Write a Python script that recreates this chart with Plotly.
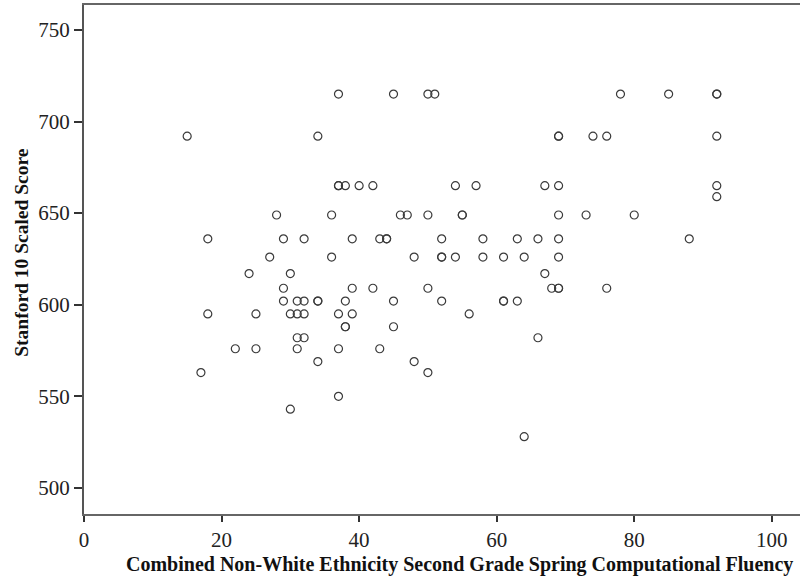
import plotly.graph_objects as go

# Computational fluency (x) and Stanford 10 scaled score (y)
fluency = [
    15, 34, 69, 69, 74, 76, 92,
    37, 45, 50, 51, 78, 85, 92, 92,
    37, 37, 38, 40, 42, 54, 57, 67, 69, 92,
    92,
    28, 36, 46, 47, 50, 55, 55, 69, 73, 80,
    18, 29, 32, 39, 43, 44, 44, 52, 58, 63, 66, 69, 88,
    27, 36, 48, 52, 52, 54, 58, 61, 64, 69,
    24, 30, 67,
    29, 39, 42, 50, 68, 69, 69, 76,
    29, 31, 32, 34, 34, 38, 45, 52, 61, 61, 63,
    18, 25, 30, 31, 32, 37, 39, 56,
    38, 38, 45,
    31, 32, 66,
    22, 25, 31, 37, 43,
    34, 48,
    17, 50,
    37,
    30,
    64,
]
score = [
    692, 692, 692, 692, 692, 692, 692,
    715, 715, 715, 715, 715, 715, 715, 715,
    665, 665, 665, 665, 665, 665, 665, 665, 665, 665,
    659,
    649, 649, 649, 649, 649, 649, 649, 649, 649, 649,
    636, 636, 636, 636, 636, 636, 636, 636, 636, 636, 636, 636, 636,
    626, 626, 626, 626, 626, 626, 626, 626, 626, 626,
    617, 617, 617,
    609, 609, 609, 609, 609, 609, 609, 609,
    602, 602, 602, 602, 602, 602, 602, 602, 602, 602, 602,
    595, 595, 595, 595, 595, 595, 595, 595,
    588, 588, 588,
    582, 582, 582,
    576, 576, 576, 576, 576,
    569, 569,
    563, 563,
    550,
    543,
    528,
]

x_ticks = [0, 20, 40, 60, 80, 100]
y_ticks = [500, 550, 600, 650, 700, 750]
x_title = "Combined Non-White Ethnicity Second Grade Spring Computational Fluency"
y_title = "Stanford 10 Scaled Score"

fig = go.Figure()
fig.add_trace(go.Scatter(
    x=fluency, y=score, mode="markers",
    marker=dict(symbol="circle-open", size=8, color="#3a3a3a",
                line=dict(width=1.2, color="#3a3a3a")),
    showlegend=False,
))

font_family = "Liberation Serif"
fig.update_layout(
    width=800, height=583,
    margin=dict(l=84, r=0, t=5, b=69),
    paper_bgcolor="white", plot_bgcolor="white",
    font=dict(family=font_family, size=17, color="#222"),
    xaxis=dict(
        range=[0, 104.1], tickvals=x_ticks, ticks="outside", ticklen=6,
        tickcolor="#333", tickwidth=1.5, showgrid=False, zeroline=False,
        showline=True, linecolor="#666", linewidth=2, mirror=True,
        tickfont=dict(family=font_family, size=21, color="#222"),
    ),
    yaxis=dict(
        range=[485.8, 763.6], tickvals=y_ticks, ticks="outside", ticklen=8,
        tickcolor="#333", tickwidth=1.5, showgrid=False, zeroline=False,
        showline=True, linecolor="#555", linewidth=2, mirror=False,
        tickfont=dict(family=font_family, size=21, color="#222"),
    ),
    annotations=[
        dict(text="<b>" + x_title + "</b>", xref="paper", yref="paper",
             x=0.525, y=-0.1, xanchor="center", yanchor="middle", showarrow=False,
             font=dict(family=font_family, size=20, color="#111")),
        dict(text="<b>" + y_title + "</b>", xref="paper", yref="paper",
             x=-0.0884, y=0.5147, xanchor="center", yanchor="middle", showarrow=False,
             textangle=-90,
             font=dict(family=font_family, size=19.5, color="#111")),
    ],
)

fig.write_html("out.html")
